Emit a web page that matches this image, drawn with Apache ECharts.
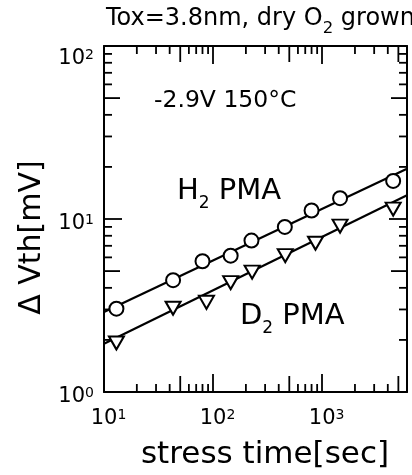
<!DOCTYPE html>
<html><head><meta charset="utf-8">
<script src="https://cdn.jsdelivr.net/npm/echarts@6/dist/echarts.min.js"></script>
<style>html,body{margin:0;padding:0;background:#fff}#c{width:412px;height:475px}</style>
</head><body><div id="c"></div>
<script>
// ---- data ----
const h2Time = [13, 43, 80, 145, 225, 455, 800, 1460, 4480];
const h2Vth  = [3.03, 4.43, 5.7, 6.14, 7.5, 9.0, 11.2, 13.2, 16.6];
const d2Time = [13, 43, 87, 145, 228, 459, 870, 1460, 4480];
const d2Vth  = [1.92, 3.05, 3.3, 4.29, 4.93, 6.14, 7.24, 9.09, 11.4];
const h2FitTime = [10, 6000];
const h2FitVth  = [2.9, 19.5];
const d2FitTime = [10, 6000];
const d2FitVth  = [1.9, 13.7];
const xRange = [10, 6000];
const yRange = [1, 100];
const xMinorTicks = [20,30,40,50,60,70,80,90,200,300,400,500,600,700,800,900,2000,3000,4000,5000];
const yMinorTicks = [2,3,4,5,6,7,8,9,20,30,40,50,60,70,80,90];
const titleText = ['Tox=3.8nm, dry O', '2', ' grown'];
const condText = '-2.9V 150°C';
const h2Label = ['H', '2', ' PMA'];
const d2Label = ['D', '2', ' PMA'];
const xName = 'stress time[sec]';
const yName = 'Δ Vth[mV]';

const FONT = 'DejaVu Sans';
const INK = '#000';
function isPow10(v){ const l = Math.log10(v); return Math.abs(l - Math.round(l)) < 1e-6; }
function minorLen(v){ const d = Math.round(v / Math.pow(10, Math.floor(Math.log10(v) + 1e-9))); return d === 5 ? 16 : 8; }
const pair = (xs, ys) => xs.map((x, i) => [x, ys[i]]);

const chart = echarts.init(document.getElementById('c'), null, {renderer: 'canvas'});

const axisCommon = {
  type: 'log', logBase: 10,
  axisLine: {show: true, lineStyle: {color: INK, width: 2}},
  axisTick: {show: true, inside: true, length: 18, lineStyle: {color: INK, width: 1.8}},
  splitLine: {show: false},
  minorTick: {show: false}
};

const xRich = {
  b: {fontFamily: FONT, fontSize: 21, color: INK, padding: [0, 0, 0, 9]},
  s: {fontFamily: FONT, fontSize: 14, color: INK, verticalAlign: 'top'}
};
const yRich = {
  b: {fontFamily: FONT, fontSize: 21, color: INK, padding: [9, 0, 0, 0]},
  s: {fontFamily: FONT, fontSize: 14, color: INK, verticalAlign: 'top', padding: [9, 0, 0, 0]},
  bt: {fontFamily: FONT, fontSize: 21, color: INK, padding: [26, 0, 0, 0]},
  st: {fontFamily: FONT, fontSize: 14, color: INK, verticalAlign: 'top', padding: [26, 0, 0, 0]}
};

function subRich(main, sub, pad){
  return {
    m: {fontFamily: FONT, fontSize: main, color: INK},
    s: {fontFamily: FONT, fontSize: sub, color: INK, padding: [pad, 0, 0, 0]}
  };
}

const option = {
  animation: false,
  backgroundColor: '#fff',
  grid: {left: 104, right: 5, top: 46, bottom: 77, containLabel: false},
  xAxis: [
    Object.assign({}, axisCommon, {
      position: 'bottom', min: xRange[0], max: xRange[1],
      name: xName, nameLocation: 'middle', nameGap: 47,
      nameTextStyle: {fontFamily: FONT, fontSize: 31, color: INK, padding: [0, 0, 0, 19]},
      axisLabel: {show: true, margin: 16,
        formatter: v => isPow10(v) ? '{b|10}{s|' + Math.round(Math.log10(v)) + '}' : '',
        rich: xRich}
    }),
    Object.assign({}, axisCommon, {
      position: 'top', min: xRange[0], max: xRange[1], axisLabel: {show: false}
    })
  ],
  yAxis: [
    Object.assign({}, axisCommon, {
      position: 'left', min: yRange[0], max: yRange[1],
      name: yName, nameLocation: 'middle', nameGap: 52, nameRotate: 90,
      nameTextStyle: {fontFamily: FONT, fontSize: 30, color: INK, padding: [0, 37, 0, 0]},
      axisLabel: {show: true, margin: 10,
        formatter: v => {
          if (!isPow10(v)) return '';
          const e = Math.round(Math.log10(v));
          return e === 2 ? '{bt|10}{st|' + e + '}' : '{b|10}{s|' + e + '}';
        },
        rich: yRich}
    }),
    Object.assign({}, axisCommon, {
      position: 'right', min: yRange[0], max: yRange[1], axisLabel: {show: false}
    })
  ],
  graphic: [
    {type: 'text', left: 106, top: 7, silent: true,
      style: {text: '{m|' + titleText[0] + '}{s|' + titleText[1] + '}{m|' + titleText[2] + '}', rich: subRich(24, 16.5, 20)}},
    {type: 'text', left: 154, top: 89, silent: true,
      style: {text: condText, font: '23.5px "' + FONT + '"', fill: INK}},
    {type: 'text', left: 177, top: 177, silent: true,
      style: {text: '{m|' + h2Label[0] + '}{s|' + h2Label[1] + '}{m|' + h2Label[2] + '}', rich: subRich(29, 17, 24)}},
    {type: 'text', left: 240, top: 302, silent: true,
      style: {text: '{m|' + d2Label[0] + '}{s|' + d2Label[1] + '}{m|' + d2Label[2] + '}', rich: subRich(29, 17, 24)}}
  ],
  series: [
    {type: 'custom', xAxisIndex: 0, yAxisIndex: 0, silent: true, clip: false, z: 3,
      data: xMinorTicks.map(v => [v, yRange[0]]),
      renderItem: (params, api) => {
        const cs = params.coordSys;
        const v = api.value(0);
        const x = api.coord([v, yRange[0]])[0];
        const L = minorLen(v);
        const b = cs.y + cs.height;
        return {type: 'group', children: [
          {type: 'line', shape: {x1: x, y1: b, x2: x, y2: b - L}, style: {stroke: INK, lineWidth: 1.8}},
          {type: 'line', shape: {x1: x, y1: cs.y, x2: x, y2: cs.y + L}, style: {stroke: INK, lineWidth: 1.8}}
        ]};
      }},
    {type: 'custom', xAxisIndex: 0, yAxisIndex: 0, silent: true, clip: false, z: 3,
      data: yMinorTicks.map(v => [xRange[0], v]),
      renderItem: (params, api) => {
        const cs = params.coordSys;
        const v = api.value(1);
        const y = api.coord([xRange[0], v])[1];
        const L = minorLen(v);
        const r = cs.x + cs.width;
        return {type: 'group', children: [
          {type: 'line', shape: {x1: cs.x, y1: y, x2: cs.x + L, y2: y}, style: {stroke: INK, lineWidth: 1.8}},
          {type: 'line', shape: {x1: r, y1: y, x2: r - L, y2: y}, style: {stroke: INK, lineWidth: 1.8}}
        ]};
      }},
    {name: 'H2 fit', type: 'line', data: pair(h2FitTime, h2FitVth), showSymbol: false, silent: true,
      lineStyle: {color: INK, width: 2.2}, z: 4},
    {name: 'D2 fit', type: 'line', data: pair(d2FitTime, d2FitVth), showSymbol: false, silent: true,
      lineStyle: {color: INK, width: 2.2}, z: 4},
    {name: 'H2 PMA', type: 'scatter', data: pair(h2Time, h2Vth), symbol: 'circle', symbolSize: 14,
      itemStyle: {color: '#fff', borderColor: INK, borderWidth: 2, opacity: 1}, z: 5},
    {name: 'D2 PMA', type: 'scatter', data: pair(d2Time, d2Vth), symbol: 'triangle', symbolSize: [15, 13], symbolRotate: 180,
      itemStyle: {color: '#fff', borderColor: INK, borderWidth: 2, opacity: 1}, z: 5}
  ]
};
chart.setOption(option);
</script></body></html>
